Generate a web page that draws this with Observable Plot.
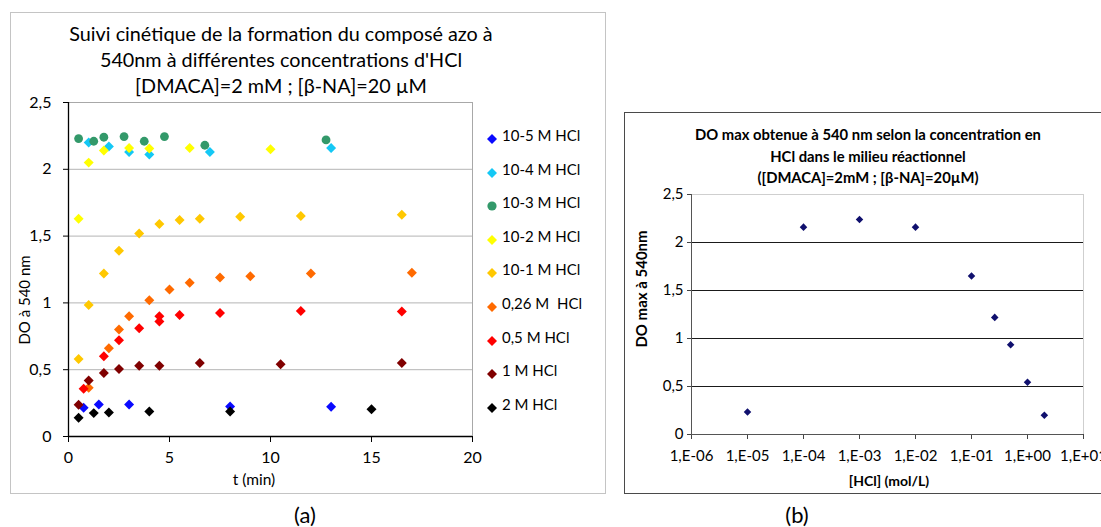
<!DOCTYPE html>
<html><head><meta charset="utf-8">
<script src="https://cdn.jsdelivr.net/npm/d3@7"></script>
<script src="https://cdn.jsdelivr.net/npm/@observablehq/plot@0.6"></script>
<style>
body{margin:0;background:#fff;font-family:Lato,"Open Sans",sans-serif;color:#000;}
#root{position:relative;width:1101px;height:527px;overflow:hidden;background:#fff;}
.abs{position:absolute;white-space:nowrap;}
.box{position:absolute;box-sizing:border-box;}
svg{overflow:visible;}
</style></head><body><div id="root"></div>
<script>
// ---------- Data: chart (a) ----------
const seriesNames  = ["10-5 M HCl","10-4 M HCl","10-3 M HCl","10-2 M HCl","10-1 M HCl","0,26 M  HCl","0,5 M HCl","1 M HCl","2 M HCl"];
const seriesColors = ["#0a0aff","#14c8f5","#33996a","#ffff00","#ffc800","#ff6a00","#ff0000","#800000","#000000"];
const seriesSymbols= ["diamond2","diamond2","circle","diamond2","diamond2","diamond2","diamond2","diamond2","diamond2"];

const t_1e5 = [0.75,1.5,3,8,13];
const v_1e5 = [0.215,0.24,0.24,0.224,0.222];
const t_1e4 = [1,2,3,4,7,13];
const v_1e4 = [2.20,2.17,2.13,2.11,2.13,2.16];
const t_1e3 = [0.5,1.25,1.75,2.75,3.75,4.75,6.75,12.75];
const v_1e3 = [2.23,2.21,2.24,2.245,2.21,2.245,2.18,2.22];
const t_1e2 = [0.5,1,1.75,3,4,6,10];
const v_1e2 = [1.63,2.05,2.14,2.16,2.155,2.16,2.15];
const t_1e1 = [0.5,1,1.75,2.5,3.5,4.5,5.5,6.5,8.5,11.5,16.5];
const v_1e1 = [0.58,0.985,1.22,1.39,1.52,1.59,1.62,1.63,1.645,1.65,1.66];
const t_026 = [1,2,2.5,3,4,5,6,7.5,9,12,17];
const v_026 = [0.365,0.66,0.80,0.90,1.02,1.10,1.15,1.19,1.20,1.22,1.225];
const t_05  = [0.75,1.75,2.5,3.5,4.5,4.5,5.5,7.5,11.5,16.5];
const v_05  = [0.357,0.60,0.72,0.81,0.86,0.90,0.91,0.925,0.94,0.935];
const t_1   = [0.5,1,1.75,2.5,3.5,4.5,6.5,10.5,16.5];
const v_1   = [0.237,0.42,0.476,0.506,0.53,0.53,0.55,0.54,0.55];
const t_2   = [0.5,1.25,2,4,8,15];
const v_2   = [0.14,0.175,0.18,0.187,0.187,0.204];

const seriesT = [t_1e5,t_1e4,t_1e3,t_1e2,t_1e1,t_026,t_05,t_1,t_2];
const seriesV = [v_1e5,v_1e4,v_1e3,v_1e2,v_1e1,v_026,v_05,v_1,v_2];
const xTicksA = [0,5,10,15,20];
const yTicksA = [0,0.5,1,1.5,2,2.5];

// ---------- Data: chart (b) ----------
const hclConc = [1e-5,1e-4,1e-3,1e-2,0.1,0.26,0.5,1,2];
const doMax   = [0.235,2.16,2.24,2.16,1.65,1.22,0.935,0.545,0.2];
const xTicksB = [1e-6,1e-5,1e-4,1e-3,1e-2,1e-1,1,10];
const yTicksB = [0,0.5,1,1.5,2,2.5];

const comma = d => String(d).replace(".", ",");
const sci = d => { const e = Math.round(Math.log10(d)); return "1,E" + (e < 0 ? "-" : "+") + String(Math.abs(e)).padStart(2, "0"); };

const root = document.getElementById("root");
function addDiv(cls, css, html){ const d=document.createElement("div"); d.className=cls; d.style.cssText=css; if(html!=null) d.innerHTML=html; root.appendChild(d); return d; }

// boxes
addDiv("box","left:10px;top:12px;width:596px;height:482px;border:1px solid #c4c4c4;");
addDiv("box","left:624px;top:112px;width:500px;height:382px;border:1px solid #4a4a4a;");

// ---------- Chart (a) ----------
const rowsA = seriesT.map((ts, k) => ts.map((t, i) => ({t, v: seriesV[k][i]})));
const left = Plot.plot({
  width: 480, height: 500,
  marginLeft: 68, marginRight: 8, marginTop: 102, marginBottom: 64,
  style: {background: "transparent", fontFamily: "Lato, sans-serif", fontSize: "16px", overflow: "visible"},
  x: {domain: [0, 20]},
  y: {domain: [0, 2.5]},
  marks: [
    Plot.gridY(yTicksA.slice(1, -1), {stroke: "#b4b4b4", strokeOpacity: 1}),
    Plot.ruleY([2.5], {stroke: "#a8a8a8"}),
    Plot.ruleX([20], {stroke: "#a8a8a8"}),
    Plot.axisY(yTicksA, {tickSize: 5, tickPadding: 12, tickFormat: comma, label: null, fontSize: 16, stroke: "#000"}),
    Plot.axisX(xTicksA, {tickSize: 6, tickPadding: 9, label: null, fontSize: 16, stroke: "#000"}),
    Plot.ruleX([0], {stroke: "#000", strokeWidth: 1.3}),
    Plot.ruleY([0], {stroke: "#000", strokeWidth: 1.3}),
    ...rowsA.map((rows, k) => Plot.dot(rows, {x: "t", y: "v", fill: seriesColors[k], stroke: null,
        symbol: seriesSymbols[k], r: seriesSymbols[k] === "circle" ? 4.4 : 4.5}))
  ]
});
left.style.position = "absolute"; left.style.left = "0px"; left.style.top = "0px";
root.appendChild(left);

addDiv("abs","left:41px;top:21px;width:480px;text-align:center;font-size:19.8px;line-height:25.8px;",
  "Suivi cinétique de la formation du composé azo à<br>540nm à différentes concentrations d'HCl<br>[DMACA]=2 mM ; [β-NA]=20 µM");
addDiv("abs","left:24px;top:300px;font-size:15px;transform:translate(-50%,-50%) rotate(-90deg);","DO à 540 nm");
addDiv("abs","left:254px;top:479px;font-size:15.5px;transform:translate(-50%,-50%);","t (min)");

// legend (a)
seriesNames.forEach((name, k) => {
  const y = 135 + k * 33.6;
  const sym = seriesSymbols[k] === "circle"
    ? `<circle cx="6" cy="6" r="4.6" fill="${seriesColors[k]}"/>`
    : `<path d="M6,1L11,6L6,11L1,6Z" fill="${seriesColors[k]}"/>`;
  addDiv("abs", `left:486px;top:${y - 6}px;`, `<svg width="12" height="12">${sym}</svg>`);
  addDiv("abs", `left:502px;top:${y}px;font-size:15px;transform:translateY(-50%);white-space:pre;`, name);
});

// ---------- Chart (b) ----------
const rowsB = hclConc.map((c, i) => ({c, v: doMax[i]}));
const right = Plot.plot({
  width: 481, height: 500,
  marginLeft: 71, marginRight: 18, marginTop: 194, marginBottom: 66,
  style: {background: "transparent", fontFamily: "Lato, sans-serif", fontSize: "15px", overflow: "visible"},
  x: {type: "log", domain: [1e-6, 10]},
  y: {domain: [0, 2.5]},
  marks: [
    Plot.gridY(yTicksB.slice(1, -1), {stroke: "#1a1a1a", strokeOpacity: 1}),
    Plot.ruleY([2.5], {stroke: "#cfcfcf"}),
    Plot.ruleX([10], {stroke: "#cfcfcf"}),
    Plot.axisY(yTicksB, {tickSize: 4, tickPadding: 4, tickFormat: comma, label: null, fontSize: 15, stroke: "#444"}),
    Plot.axisX(xTicksB, {tickSize: 5, tickPadding: 11, tickFormat: sci, label: null, fontSize: 15, stroke: "#444"}),
    Plot.ruleX([1e-6], {stroke: "#555"}),
    Plot.ruleY([0], {stroke: "#555"}),
    Plot.dot(rowsB, {x: "c", y: "v", fill: "#10106e", stroke: null, symbol: "diamond2", r: 3.4})
  ]
});
right.style.position = "absolute"; right.style.left = "620px"; right.style.top = "0px";
root.appendChild(right);

addDiv("abs","left:618px;top:124px;width:500px;text-align:center;font-size:14.8px;font-weight:bold;line-height:21.6px;",
  "DO max obtenue à 540 nm selon la concentration en<br>HCl dans le milieu réactionnel<br>([DMACA]=2mM ; [β-NA]=20µM)");
addDiv("abs","left:641px;top:289px;font-size:15px;font-weight:bold;transform:translate(-50%,-50%) rotate(-90deg);","DO max à 540nm");
addDiv("abs","left:889px;top:480px;font-size:14px;font-weight:bold;transform:translate(-50%,-50%);","[HCl] (mol/L)");

// captions
addDiv("abs","left:305px;top:514px;font-size:22px;transform:translate(-50%,-50%);","(a)");
addDiv("abs","left:797px;top:514px;font-size:22px;transform:translate(-50%,-50%);","(b)");
</script></body></html>
